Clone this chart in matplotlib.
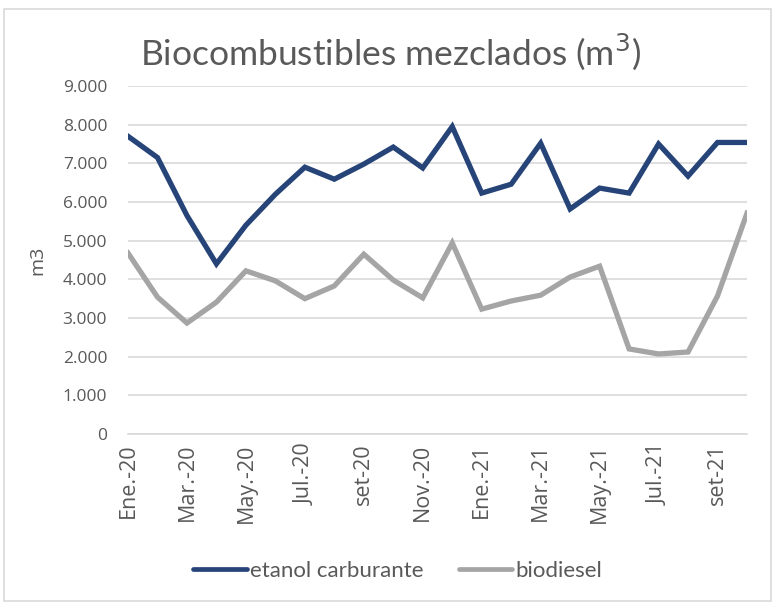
import matplotlib.pyplot as plt
from matplotlib.patches import Rectangle
from matplotlib.ticker import FuncFormatter

months = ["Ene.-20", "Feb.-20", "Mar.-20", "Abr.-20", "May.-20", "Jun.-20",
          "Jul.-20", "Ago.-20", "set-20", "Oct.-20", "Nov.-20", "Dic.-20",
          "Ene.-21", "Feb.-21", "Mar.-21", "Abr.-21", "May.-21", "Jun.-21",
          "Jul.-21", "Ago.-21", "set-21", "oct-21"]

etanol = [7700, 7150, 5650, 4400, 5400, 6200, 6900, 6590, 6980, 7420, 6880, 7950,
          6230, 6460, 7520, 5820, 6360, 6230, 7500, 6670, 7540, 7540]
biodiesel = [4680, 3540, 2870, 3410, 4220, 3960, 3500, 3830, 4650, 3980, 3520, 4940,
             3230, 3440, 3590, 4060, 4340, 2200, 2070, 2120, 3570, 5710]

yticks = list(range(0, 9001, 1000))

navy = "#264478"
gray = "#A5A5A5"
grid = "#D9D9D9"
text_col = "#595959"

plt.rcParams["font.family"] = ["Open Sans", "DejaVu Sans"]

fig = plt.figure(figsize=(7.73, 6.03), dpi=100)
ax = fig.add_axes([128 / 773, 1 - 434 / 603, (747 - 128) / 773, (434 - 86) / 603])

x = list(range(len(months)))
ax.plot(x, etanol, color=navy, lw=3.8, label="etanol carburante", solid_joinstyle="miter")
ax.plot(x, biodiesel, color=gray, lw=3.8, label="biodiesel", solid_joinstyle="miter")

ax.set_xlim(0, len(months) - 1)
ax.set_ylim(0, 9000)
ax.set_yticks(yticks)
ax.yaxis.set_major_formatter(FuncFormatter(lambda v, p: f"{int(v):,}".replace(",", ".")))
ax.set_xticks(x[::2])
ax.set_xticklabels(months[::2], rotation=90)

ax.grid(axis="y", color=grid, lw=1.2)
ax.set_axisbelow(True)
for s in ["top", "right", "left"]:
    ax.spines[s].set_visible(False)
ax.spines["bottom"].set_color(grid)
ax.spines["bottom"].set_linewidth(1.2)
ax.tick_params(axis="x", length=0, pad=7, labelsize=15.5, labelcolor=text_col)
ax.tick_params(axis="y", length=0, pad=15, labelsize=12.5, labelcolor=text_col)

ax.set_ylabel("m3", fontsize=14, color=text_col, labelpad=12)

fig.text(391 / 773, 1 - 52 / 603, "Biocombustibles mezclados (m$^3$)", ha="center",
         va="center", fontsize=25.5, color=text_col, family="Lato")

leg = fig.legend(loc="center", bbox_to_anchor=(398 / 773, 1 - 571 / 603), ncol=2,
                 frameon=False, handlelength=2.4, handletextpad=0.15,
                 columnspacing=1.6, prop={"family": "Lato", "size": 16})
for t in leg.get_texts():
    t.set_color(text_col)
for h in leg.get_lines():
    h.set_linewidth(3.4)
    h.set_solid_capstyle("round")

fig.patches.append(Rectangle((4 / 773, 2 / 603), 1 - 6 / 773, 1 - 11 / 603,
                             transform=fig.transFigure, fill=False,
                             edgecolor=grid, lw=1.2))

fig.savefig("out.png", dpi=100)
